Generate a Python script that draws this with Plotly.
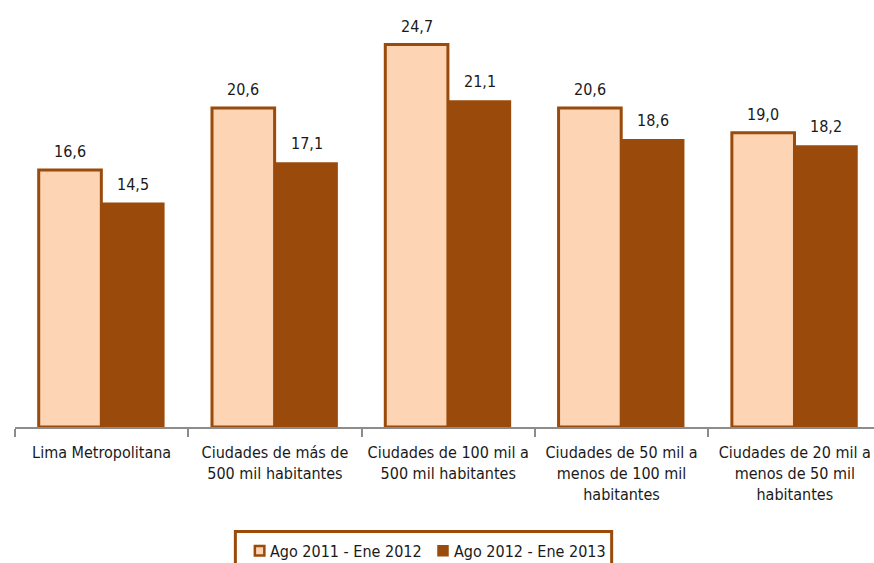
import plotly.graph_objects as go

categories = [
    "Lima Metropolitana",
    "Ciudades de más de<br>500 mil habitantes",
    "Ciudades de 100 mil a<br>500 mil habitantes",
    "Ciudades de 50 mil a<br>menos de 100 mil<br>habitantes",
    "Ciudades de 20 mil a<br>menos de 50 mil<br>habitantes",
]
series_names = ["Ago 2011 - Ene 2012", "Ago 2012 - Ene 2013"]
values_2011 = [16.6, 20.6, 24.7, 20.6, 19.0]
values_2012 = [14.5, 17.1, 21.1, 18.6, 18.2]

FONT = "Liberation Sans Narrow, Arial Narrow, DejaVu Sans Condensed, sans-serif"
DARK = "#9A4A0A"
LIGHT = "#FDD5B5"
TXT = "#1a1a1a"

W, H = 874, 563
ML, MR, MT, MB = 14.5, 0, 0, 136
X_RANGE = [-0.5, 4.457]
BARGAP = 0.27
PLOT_W = W - ML - MR
PLOT_H = H - MT - MB


def px_x(px):
    return (px - ML) / PLOT_W


def px_y(py):
    return (MT + PLOT_H - py) / PLOT_H


fig = go.Figure()
fig.add_trace(go.Bar(
    x=categories, y=values_2011, name=series_names[0],
    marker=dict(color=LIGHT, line=dict(color=DARK, width=3)),
    cliponaxis=False, showlegend=False,
))
fig.add_trace(go.Bar(
    x=categories, y=values_2012, name=series_names[1],
    marker=dict(color=DARK, line=dict(color=DARK, width=0)),
    cliponaxis=False, showlegend=False,
))

# data labels as annotations, shifted to the centre of each bar in the group
cat_px = PLOT_W / (X_RANGE[1] - X_RANGE[0])
bar_px = cat_px * (1 - BARGAP) / 2
annotations = []
for series, sign in ((values_2011, -1), (values_2012, 1)):
    for cat, val in zip(categories, series):
        annotations.append(dict(
            x=cat, y=val, xref="x", yref="y",
            text=f"{val:.1f}".replace(".", ","),
            showarrow=False, yanchor="bottom",
            xshift=sign * bar_px / 2, yshift=7,
            font=dict(family=FONT, size=16, color=TXT),
        ))

# legend drawn manually (the reference legend box is cut by the bottom edge)
shapes = [
    dict(type="rect", xref="paper", yref="paper",
         x0=px_x(235), x1=px_x(611.5), y0=px_y(531.5), y1=px_y(580),
         line=dict(color=DARK, width=3), fillcolor="white", layer="above"),
    dict(type="rect", xref="paper", yref="paper",
         x0=px_x(254.5), x1=px_x(264), y0=px_y(546), y1=px_y(555.5),
         line=dict(color=DARK, width=2.5), fillcolor=LIGHT, layer="above"),
    dict(type="rect", xref="paper", yref="paper",
         x0=px_x(437), x1=px_x(448.5), y0=px_y(545), y1=px_y(556.5),
         line=dict(color=DARK, width=0), fillcolor=DARK, layer="above"),
]
for name, left in zip(series_names, (268, 452)):
    annotations.append(dict(
        x=px_x(left), y=px_y(551), xref="paper", yref="paper",
        text=name, showarrow=False, xanchor="left", yanchor="middle",
        font=dict(family=FONT, size=16, color=TXT),
    ))

fig.update_layout(
    width=W, height=H,
    margin=dict(l=ML, r=MR, t=MT, b=MB),
    paper_bgcolor="white", plot_bgcolor="white",
    barmode="group", bargap=BARGAP, bargroupgap=0.01,
    font=dict(family=FONT, size=16, color=TXT),
    showlegend=False,
    annotations=annotations,
    shapes=shapes,
    xaxis=dict(
        type="category", range=X_RANGE, automargin=False,
        showline=True, linecolor="#8c8c8c", linewidth=2,
        ticks="outside", tickson="boundaries", ticklen=8, tickwidth=2,
        tickcolor="#8c8c8c", showgrid=False, ticklabelstandoff=10,
        tickfont=dict(family=FONT, size=16, color=TXT),
    ),
    yaxis=dict(range=[0, 27.58], visible=False, showgrid=False, automargin=False),
)

fig.write_html(
    "out.html",
    config={"displayModeBar": False},
    post_script="document.body.style.margin='0';document.body.style.overflow='hidden';",
)
